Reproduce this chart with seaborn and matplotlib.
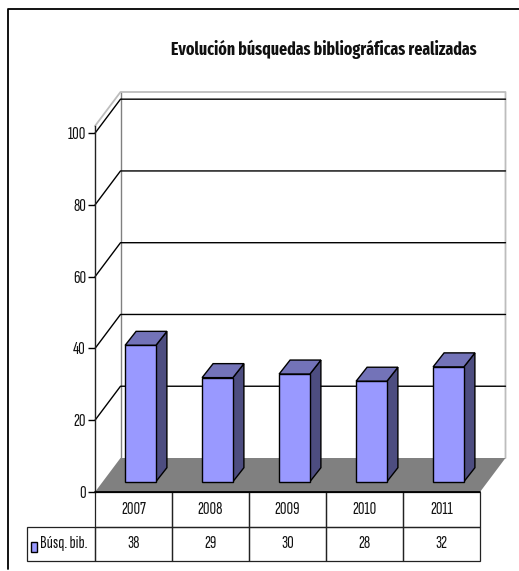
import pandas as pd
import matplotlib
matplotlib.use("Agg")
import matplotlib.pyplot as plt
import seaborn as sns
from matplotlib.lines import Line2D
from matplotlib.patches import Polygon, Rectangle
from matplotlib.transforms import Affine2D, IdentityTransform

years = ["2007", "2008", "2009", "2010", "2011"]
busquedas = [38, 29, 30, 28, 32]
y_ticks = [0, 20, 40, 60, 80, 100]
series_name = "Búsq. bib."
title = "Evolución búsquedas bibliográficas realizadas"

W, H = 519, 571
FRONT = "#9999FF"
TOP = "#7373B8"
SIDE = "#4D4D80"

sns.set_theme(style="white")
plt.rcParams["font.family"] = ["Sofia Sans Extra Condensed", "Liberation Sans", "DejaVu Sans"]

fig = plt.figure(figsize=(W / 100, H / 100), dpi=100, facecolor="white")
ax = fig.add_axes([95 / W, (H - 492) / H, 385 / W, 366 / H])
ax.patch.set_visible(False)

df = pd.DataFrame({"year": years, "value": busquedas})
sns.barplot(data=df, x="year", y="value", width=0.4, color=FRONT, saturation=1, ax=ax, zorder=5)
ax.set_xlim(-0.5, 4.5)
ax.set_ylim(0, 102)
ax.set_xlabel("")
ax.set_ylabel("")
ax.set_xticks([])
ax.set_yticks(y_ticks)
ax.tick_params(axis="y", left=True, length=5, width=1, color="black", pad=1.5, labelsize=13, labelcolor="#111111")
for s in ["top", "right", "bottom"]:
    ax.spines[s].set_visible(False)
ax.spines["left"].set_color("#222222")
ax.spines["left"].set_linewidth(1)

# falso 3D: tutto in pixel a partire dalle scale dell'asse
DX, DY = 25.5, 34
BAR_DX, BAR_DY = 7.0, 10.3
DEPTH_X, DEPTH_Y = 11, 14


def px(x, y):
    return ax.transData.transform((x, y))


def poly(points, **kw):
    ax.add_patch(Polygon(points, closed=True, transform=IdentityTransform(), clip_on=False, **kw))


x0, x1 = ax.get_xlim()
ytop = ax.get_ylim()[1]
(ax_l, ax_b), (ax_r, ax_t) = px(x0, 0), px(x1, ytop)

# pavimento e parete di fondo
poly([(ax_l, ax_b), (ax_r, ax_b), (ax_r + DX, ax_b + DY), (ax_l + DX, ax_b + DY)],
     facecolor="#808080", edgecolor="none", zorder=2)
ax.add_line(Line2D([ax_l + DX, ax_l + DX], [ax_b + DY, ax_t + DY], color="#808080", lw=1,
                   transform=IdentityTransform(), clip_on=False, zorder=1))
ax.add_line(Line2D([ax_l, ax_l + DX, ax_r + DX, ax_r + DX], [ax_t, ax_t + DY, ax_t + DY, ax_b + DY],
                   color="#BDBDBD", lw=1.3, transform=IdentityTransform(), clip_on=False, zorder=1))
ax.add_line(Line2D([ax_l, ax_r], [ax_b, ax_b], color="black", lw=1.3,
                   transform=IdentityTransform(), clip_on=False, zorder=3))

# griglia sulla parete e sul fianco
for t in y_ticks[1:]:
    xa, ya = px(x0, t)
    ax.add_line(Line2D([xa, xa + DX, ax_r + DX], [ya, ya + DY, ya + DY], color="black", lw=1,
                       transform=IdentityTransform(), clip_on=False, zorder=1))

# barre: sposto la faccia frontale e aggiungo lato e tetto
shift = Affine2D().translate(BAR_DX, BAR_DY)
for bar in list(ax.patches):
    if isinstance(bar, Polygon):
        continue
    left, right = bar.get_x(), bar.get_x() + bar.get_width()
    h = bar.get_height()
    (xl, yb), (xr, yt) = px(left, 0), px(right, h)
    xl, xr, yb, yt = xl + BAR_DX, xr + BAR_DX, yb + BAR_DY, yt + BAR_DY
    bar.set_transform(ax.transData + shift)
    bar.set_clip_on(False)
    bar.set_edgecolor("black")
    bar.set_linewidth(1)
    poly([(xr, yb), (xr + DEPTH_X, yb + DEPTH_Y), (xr + DEPTH_X, yt + DEPTH_Y), (xr, yt)],
         facecolor=SIDE, edgecolor="black", lw=1, zorder=4)
    poly([(xl, yt), (xr, yt), (xr + DEPTH_X, yt + DEPTH_Y), (xl + DEPTH_X, yt + DEPTH_Y)],
         facecolor=TOP, edgecolor="black", lw=1, zorder=4)

# tabella dati sotto il grafico
ax_w, ax_h = ax_r - ax_l, ax_t - ax_b
label_w = 68 / ax_w
cols = [label_w] + [1 / len(years)] * len(years)
tbl = ax.table(
    cellText=[[""] + years, [series_name] + [str(v) for v in busquedas]],
    colWidths=cols,
    cellLoc="center",
    bbox=[-label_w, -69 / ax_h, 1 + label_w, 69 / ax_h],
)
tbl.auto_set_font_size(False)
tbl.set_fontsize(13)
for (r, c), cell in tbl.get_celld().items():
    cell.set_edgecolor("#222222")
    cell.set_linewidth(0.9)
    cell.set_facecolor("none")
    cell.get_text().set_color("#111111")
tbl[(0, 0)].visible_edges = ""
lab = tbl[(1, 0)]
lab.get_text().set_horizontalalignment("left")
lab.PAD = 13 / 68
ax.add_patch(Rectangle((30.5, H - 552), 6.5, 10, transform=IdentityTransform(), clip_on=False,
                       facecolor=FRONT, edgecolor="black", lw=1, zorder=6))

# cornice esterna (solo sinistra e alto)
fig.add_artist(Line2D([7.5 / W, 7.5 / W, 1], [(H - 569) / H, (H - 8.5) / H, (H - 8.5) / H],
                      color="black", lw=1.3, transform=fig.transFigure))

fig.text(324 / W, (H - 49) / H, title, ha="center", va="center", fontsize=12.4, fontweight="bold", color="#111111",
         family=["Fira Sans Extra Condensed", "Liberation Sans", "DejaVu Sans"])

fig.savefig("out.png", dpi=100)
